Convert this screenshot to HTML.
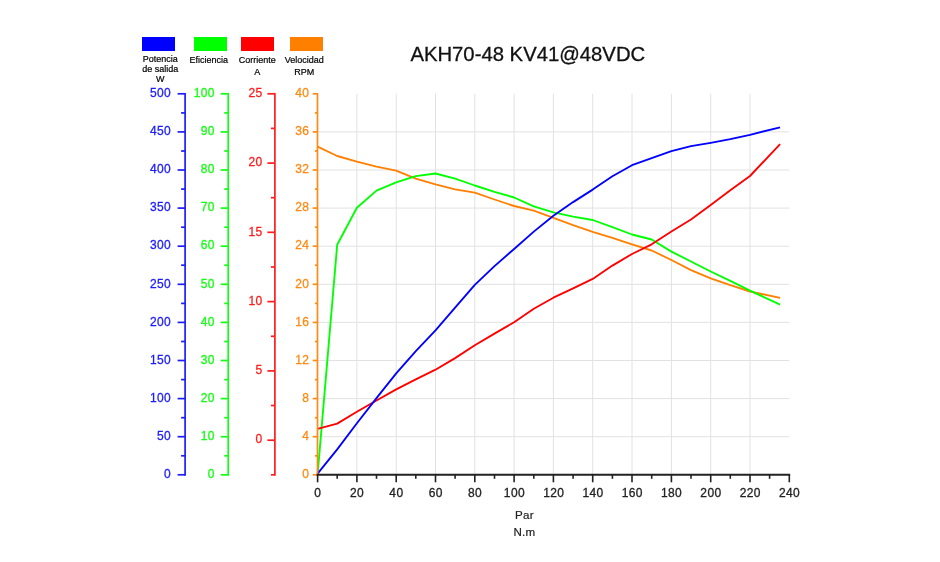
<!DOCTYPE html>
<html><head><meta charset="utf-8"><title>AKH70-48 KV41@48VDC</title>
<style>
html,body{margin:0;padding:0;background:#fff;}
body{width:940px;height:562px;overflow:hidden;font-family:"Liberation Sans",sans-serif;}
svg{display:block}
svg text{font-family:"Liberation Sans",sans-serif;}
.t{font-size:12px;letter-spacing:0.35px;stroke-width:0.3}
.lg{font-size:9px;fill:#000;stroke:#000;stroke-width:0.2}
</style></head><body>
<svg width="940" height="562" viewBox="0 0 940 562">
<rect width="940" height="562" fill="#fff"/>

<g stroke="#e2e2e2" stroke-width="1">
<line x1="356.9" y1="93.8" x2="356.9" y2="474.8"/>
<line x1="396.2" y1="93.8" x2="396.2" y2="474.8"/>
<line x1="435.5" y1="93.8" x2="435.5" y2="474.8"/>
<line x1="474.8" y1="93.8" x2="474.8" y2="474.8"/>
<line x1="514.1" y1="93.8" x2="514.1" y2="474.8"/>
<line x1="553.4" y1="93.8" x2="553.4" y2="474.8"/>
<line x1="592.7" y1="93.8" x2="592.7" y2="474.8"/>
<line x1="632.0" y1="93.8" x2="632.0" y2="474.8"/>
<line x1="671.4" y1="93.8" x2="671.4" y2="474.8"/>
<line x1="710.7" y1="93.8" x2="710.7" y2="474.8"/>
<line x1="750.0" y1="93.8" x2="750.0" y2="474.8"/>
<line x1="317.55" y1="436.7" x2="789.3" y2="436.7"/>
<line x1="317.55" y1="398.6" x2="789.3" y2="398.6"/>
<line x1="317.55" y1="360.5" x2="789.3" y2="360.5"/>
<line x1="317.55" y1="322.4" x2="789.3" y2="322.4"/>
<line x1="317.55" y1="284.3" x2="789.3" y2="284.3"/>
<line x1="317.55" y1="246.2" x2="789.3" y2="246.2"/>
<line x1="317.55" y1="208.1" x2="789.3" y2="208.1"/>
<line x1="317.55" y1="170.0" x2="789.3" y2="170.0"/>
<line x1="317.55" y1="131.9" x2="789.3" y2="131.9"/>
</g>
<rect x="142" y="37" width="33" height="14" fill="#0000ff"/>
<rect x="194" y="37" width="33" height="14" fill="#00ff00"/>
<rect x="241" y="37" width="33" height="14" fill="#ff0000"/>
<rect x="290" y="37" width="33" height="14" fill="#ff8000"/>
<g class="lg" text-anchor="middle">
<text x="160.3" y="62">Potencia</text><text x="160.3" y="71.8">de salida</text><text x="160.3" y="81.9">W</text>
<text x="208.7" y="63.1">Eficiencia</text>
<text x="257.3" y="63.1">Corriente</text><text x="257.3" y="74.8">A</text>
<text x="304.3" y="63.1">Velocidad</text><text x="304.3" y="74.8">RPM</text>
</g>
<text x="527.8" y="61.3" text-anchor="middle" font-size="20.3" fill="#111" stroke="#111" stroke-width="0.3">AKH70-48 KV41@48VDC</text>
<polyline fill="none" stroke="#ff8000" stroke-width="1.85" stroke-linejoin="round" points="317.6,146.6 337.2,156.0 356.9,161.6 376.5,166.7 396.2,170.6 415.8,178.7 435.5,184.3 455.1,189.3 474.8,192.7 494.5,199.5 514.1,206.0 533.8,210.6 553.4,217.8 573.1,225.1 592.7,231.8 612.4,237.8 632.0,244.3 651.7,250.5 671.4,260.0 691.0,270.1 710.7,278.3 730.3,285.2 750.0,291.5 780.1,297.8"/>
<polyline fill="none" stroke="#00ff00" stroke-width="1.85" stroke-linejoin="round" points="317.6,474.7 337.2,244.7 356.9,207.7 376.5,190.6 396.2,182.4 415.8,176.1 435.5,173.5 455.1,178.7 474.8,185.5 494.5,191.8 514.1,197.5 533.8,206.4 553.4,212.3 573.1,216.6 592.7,220.0 612.4,227.2 632.0,234.5 651.7,239.5 671.4,251.6 691.0,261.5 710.7,271.5 730.3,280.9 750.0,290.6 780.1,304.6"/>
<polyline fill="none" stroke="#ff0000" stroke-width="1.85" stroke-linejoin="round" points="317.6,428.9 337.2,423.6 356.9,411.8 376.5,400.5 396.2,389.4 415.8,379.4 435.5,369.7 455.1,358.1 474.8,345.3 494.5,333.6 514.1,322.2 533.8,308.8 553.4,297.7 573.1,288.3 592.7,278.9 612.4,265.6 632.0,254.0 651.7,244.3 671.4,231.5 691.0,219.5 710.7,205.0 730.3,190.3 750.0,176.0 780.1,144.1"/>
<polyline fill="none" stroke="#0000ff" stroke-width="1.85" stroke-linejoin="round" points="317.6,473.7 337.2,449.4 356.9,423.3 376.5,398.1 396.2,373.4 415.8,351.2 435.5,330.4 455.1,307.7 474.8,284.9 494.5,266.1 514.1,249.0 533.8,231.6 553.4,215.7 573.1,202.1 592.7,189.6 612.4,176.3 632.0,165.2 651.7,158.1 671.4,151.2 691.0,146.2 710.7,142.8 730.3,139.1 750.0,134.8 780.1,127.3"/>
<g stroke="#1c1cff" stroke-width="1.7" fill="none">
<line x1="185.1" y1="92.89999999999999" x2="185.1" y2="475.7"/>
<line x1="177.6" y1="474.8" x2="185.1" y2="474.8"/>
<line x1="181.1" y1="455.8" x2="185.1" y2="455.8"/>
<line x1="177.6" y1="436.7" x2="185.1" y2="436.7"/>
<line x1="181.1" y1="417.7" x2="185.1" y2="417.7"/>
<line x1="177.6" y1="398.6" x2="185.1" y2="398.6"/>
<line x1="181.1" y1="379.6" x2="185.1" y2="379.6"/>
<line x1="177.6" y1="360.5" x2="185.1" y2="360.5"/>
<line x1="181.1" y1="341.5" x2="185.1" y2="341.5"/>
<line x1="177.6" y1="322.4" x2="185.1" y2="322.4"/>
<line x1="181.1" y1="303.4" x2="185.1" y2="303.4"/>
<line x1="177.6" y1="284.3" x2="185.1" y2="284.3"/>
<line x1="181.1" y1="265.2" x2="185.1" y2="265.2"/>
<line x1="177.6" y1="246.2" x2="185.1" y2="246.2"/>
<line x1="181.1" y1="227.2" x2="185.1" y2="227.2"/>
<line x1="177.6" y1="208.1" x2="185.1" y2="208.1"/>
<line x1="181.1" y1="189.1" x2="185.1" y2="189.1"/>
<line x1="177.6" y1="170.0" x2="185.1" y2="170.0"/>
<line x1="181.1" y1="151.0" x2="185.1" y2="151.0"/>
<line x1="177.6" y1="131.9" x2="185.1" y2="131.9"/>
<line x1="181.1" y1="112.9" x2="185.1" y2="112.9"/>
<line x1="177.6" y1="93.8" x2="185.1" y2="93.8"/>
</g>
<g class="t" fill="#1c1cff" stroke="#1c1cff" text-anchor="end">
<text x="171.0" y="478.0">0</text>
<text x="171.0" y="439.9">50</text>
<text x="171.0" y="401.8">100</text>
<text x="171.0" y="363.7">150</text>
<text x="171.0" y="325.6">200</text>
<text x="171.0" y="287.5">250</text>
<text x="171.0" y="249.4">300</text>
<text x="171.0" y="211.3">350</text>
<text x="171.0" y="173.2">400</text>
<text x="171.0" y="135.1">450</text>
<text x="171.0" y="97.0">500</text>
</g>
<g stroke="#14ff14" stroke-width="1.7" fill="none">
<line x1="228.2" y1="92.89999999999999" x2="228.2" y2="475.7"/>
<line x1="220.7" y1="474.8" x2="228.2" y2="474.8"/>
<line x1="224.2" y1="455.8" x2="228.2" y2="455.8"/>
<line x1="220.7" y1="436.7" x2="228.2" y2="436.7"/>
<line x1="224.2" y1="417.7" x2="228.2" y2="417.7"/>
<line x1="220.7" y1="398.6" x2="228.2" y2="398.6"/>
<line x1="224.2" y1="379.6" x2="228.2" y2="379.6"/>
<line x1="220.7" y1="360.5" x2="228.2" y2="360.5"/>
<line x1="224.2" y1="341.5" x2="228.2" y2="341.5"/>
<line x1="220.7" y1="322.4" x2="228.2" y2="322.4"/>
<line x1="224.2" y1="303.4" x2="228.2" y2="303.4"/>
<line x1="220.7" y1="284.3" x2="228.2" y2="284.3"/>
<line x1="224.2" y1="265.2" x2="228.2" y2="265.2"/>
<line x1="220.7" y1="246.2" x2="228.2" y2="246.2"/>
<line x1="224.2" y1="227.2" x2="228.2" y2="227.2"/>
<line x1="220.7" y1="208.1" x2="228.2" y2="208.1"/>
<line x1="224.2" y1="189.1" x2="228.2" y2="189.1"/>
<line x1="220.7" y1="170.0" x2="228.2" y2="170.0"/>
<line x1="224.2" y1="151.0" x2="228.2" y2="151.0"/>
<line x1="220.7" y1="131.9" x2="228.2" y2="131.9"/>
<line x1="224.2" y1="112.9" x2="228.2" y2="112.9"/>
<line x1="220.7" y1="93.8" x2="228.2" y2="93.8"/>
</g>
<g class="t" fill="#14ff14" stroke="#14ff14" text-anchor="end">
<text x="214.9" y="478.0">0</text>
<text x="214.9" y="439.9">10</text>
<text x="214.9" y="401.8">20</text>
<text x="214.9" y="363.7">30</text>
<text x="214.9" y="325.6">40</text>
<text x="214.9" y="287.5">50</text>
<text x="214.9" y="249.4">60</text>
<text x="214.9" y="211.3">70</text>
<text x="214.9" y="173.2">80</text>
<text x="214.9" y="135.1">90</text>
<text x="214.9" y="97.0">100</text>
</g>
<g stroke="#ff1c1c" stroke-width="1.7" fill="none">
<line x1="274.9" y1="92.89999999999999" x2="274.9" y2="475.7"/>
<line x1="270.9" y1="474.8" x2="274.9" y2="474.8"/>
<line x1="267.4" y1="440.2" x2="274.9" y2="440.2"/>
<line x1="270.9" y1="405.5" x2="274.9" y2="405.5"/>
<line x1="267.4" y1="370.9" x2="274.9" y2="370.9"/>
<line x1="270.9" y1="336.3" x2="274.9" y2="336.3"/>
<line x1="267.4" y1="301.6" x2="274.9" y2="301.6"/>
<line x1="270.9" y1="267.0" x2="274.9" y2="267.0"/>
<line x1="267.4" y1="232.3" x2="274.9" y2="232.3"/>
<line x1="270.9" y1="197.7" x2="274.9" y2="197.7"/>
<line x1="267.4" y1="163.1" x2="274.9" y2="163.1"/>
<line x1="270.9" y1="128.4" x2="274.9" y2="128.4"/>
<line x1="267.4" y1="93.8" x2="274.9" y2="93.8"/>
</g>
<g class="t" fill="#ff1c1c" stroke="#ff1c1c" text-anchor="end">
<text x="262.5" y="443.4">0</text>
<text x="262.5" y="374.1">5</text>
<text x="262.5" y="304.8">10</text>
<text x="262.5" y="235.5">15</text>
<text x="262.5" y="166.3">20</text>
<text x="262.5" y="97.0">25</text>
</g>
<g stroke="#ff8a14" stroke-width="1.7" fill="none">
<line x1="317.5" y1="92.89999999999999" x2="317.5" y2="475.7"/>
<line x1="312.7" y1="474.8" x2="317.5" y2="474.8"/>
<line x1="314.9" y1="455.8" x2="317.5" y2="455.8"/>
<line x1="312.7" y1="436.7" x2="317.5" y2="436.7"/>
<line x1="314.9" y1="417.7" x2="317.5" y2="417.7"/>
<line x1="312.7" y1="398.6" x2="317.5" y2="398.6"/>
<line x1="314.9" y1="379.6" x2="317.5" y2="379.6"/>
<line x1="312.7" y1="360.5" x2="317.5" y2="360.5"/>
<line x1="314.9" y1="341.5" x2="317.5" y2="341.5"/>
<line x1="312.7" y1="322.4" x2="317.5" y2="322.4"/>
<line x1="314.9" y1="303.4" x2="317.5" y2="303.4"/>
<line x1="312.7" y1="284.3" x2="317.5" y2="284.3"/>
<line x1="314.9" y1="265.2" x2="317.5" y2="265.2"/>
<line x1="312.7" y1="246.2" x2="317.5" y2="246.2"/>
<line x1="314.9" y1="227.2" x2="317.5" y2="227.2"/>
<line x1="312.7" y1="208.1" x2="317.5" y2="208.1"/>
<line x1="314.9" y1="189.1" x2="317.5" y2="189.1"/>
<line x1="312.7" y1="170.0" x2="317.5" y2="170.0"/>
<line x1="314.9" y1="151.0" x2="317.5" y2="151.0"/>
<line x1="312.7" y1="131.9" x2="317.5" y2="131.9"/>
<line x1="314.9" y1="112.9" x2="317.5" y2="112.9"/>
<line x1="312.7" y1="93.8" x2="317.5" y2="93.8"/>
</g>
<g class="t" fill="#ff8a14" stroke="#ff8a14" text-anchor="end">
<text x="309.3" y="478.0">0</text>
<text x="309.3" y="439.9">4</text>
<text x="309.3" y="401.8">8</text>
<text x="309.3" y="363.7">12</text>
<text x="309.3" y="325.6">16</text>
<text x="309.3" y="287.5">20</text>
<text x="309.3" y="249.4">24</text>
<text x="309.3" y="211.3">28</text>
<text x="309.3" y="173.2">32</text>
<text x="309.3" y="135.1">36</text>
<text x="309.3" y="97.0">40</text>
</g>
<g stroke="#222" stroke-width="2"><line x1="316.65000000000003" y1="474.8" x2="790.2" y2="474.8"/></g>
<g stroke="#222" stroke-width="1.6">
<line x1="317.6" y1="474.8" x2="317.6" y2="482.3"/>
<line x1="337.2" y1="474.8" x2="337.2" y2="478.8"/>
<line x1="356.9" y1="474.8" x2="356.9" y2="482.3"/>
<line x1="376.5" y1="474.8" x2="376.5" y2="478.8"/>
<line x1="396.2" y1="474.8" x2="396.2" y2="482.3"/>
<line x1="415.8" y1="474.8" x2="415.8" y2="478.8"/>
<line x1="435.5" y1="474.8" x2="435.5" y2="482.3"/>
<line x1="455.1" y1="474.8" x2="455.1" y2="478.8"/>
<line x1="474.8" y1="474.8" x2="474.8" y2="482.3"/>
<line x1="494.5" y1="474.8" x2="494.5" y2="478.8"/>
<line x1="514.1" y1="474.8" x2="514.1" y2="482.3"/>
<line x1="533.8" y1="474.8" x2="533.8" y2="478.8"/>
<line x1="553.4" y1="474.8" x2="553.4" y2="482.3"/>
<line x1="573.1" y1="474.8" x2="573.1" y2="478.8"/>
<line x1="592.7" y1="474.8" x2="592.7" y2="482.3"/>
<line x1="612.4" y1="474.8" x2="612.4" y2="478.8"/>
<line x1="632.0" y1="474.8" x2="632.0" y2="482.3"/>
<line x1="651.7" y1="474.8" x2="651.7" y2="478.8"/>
<line x1="671.4" y1="474.8" x2="671.4" y2="482.3"/>
<line x1="691.0" y1="474.8" x2="691.0" y2="478.8"/>
<line x1="710.7" y1="474.8" x2="710.7" y2="482.3"/>
<line x1="730.3" y1="474.8" x2="730.3" y2="478.8"/>
<line x1="750.0" y1="474.8" x2="750.0" y2="482.3"/>
<line x1="769.6" y1="474.8" x2="769.6" y2="478.8"/>
<line x1="789.3" y1="474.8" x2="789.3" y2="482.3"/>
</g>
<g class="t" fill="#222" stroke="#222" text-anchor="middle">
<text x="317.8" y="496.8">0</text>
<text x="357.1" y="496.8">20</text>
<text x="396.4" y="496.8">40</text>
<text x="435.7" y="496.8">60</text>
<text x="475.0" y="496.8">80</text>
<text x="514.4" y="496.8">100</text>
<text x="553.7" y="496.8">120</text>
<text x="593.0" y="496.8">140</text>
<text x="632.3" y="496.8">160</text>
<text x="671.6" y="496.8">180</text>
<text x="710.9" y="496.8">200</text>
<text x="750.2" y="496.8">220</text>
<text x="789.5" y="496.8">240</text>
</g>
<g font-size="11.6" letter-spacing="0.25" fill="#222" stroke="#222" stroke-width="0.2" text-anchor="middle"><text x="524.5" y="518.6">Par</text><text x="524.5" y="535.8">N.m</text></g>
</svg></body></html>
